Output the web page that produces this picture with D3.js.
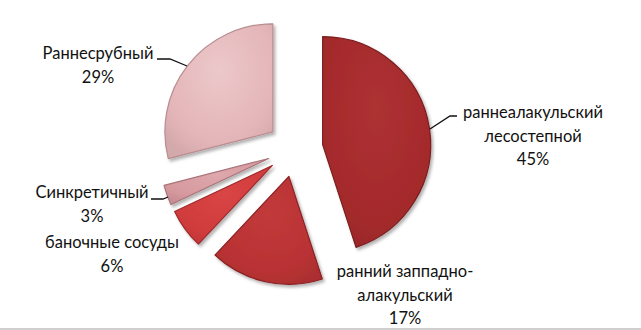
<!DOCTYPE html>
<meta charset="utf-8">
<style>
body { margin: 0; background: #fff; }
.label {
  font: 16.5px Lato, "Open Sans", sans-serif;
  fill: #111;
  text-anchor: middle;
}
.leader {
  fill: none;
  stroke: #111;
  stroke-width: 1.3px;
}
</style>
<svg width="641" height="330"></svg>
<script src="https://d3js.org/d3.v7.min.js"></script>
<script>

// chart data, clockwise from 12 o'clock
var names = [
  ["раннеалакульский", "лесостепной"],
  ["ранний заппадно-", "алакульский"],
  ["баночные сосуды"],
  ["Синкретичный"],
  ["Раннесрубный"]
];
var values = [45, 17, 6, 3, 29];

// look of each slice: base fill, light tone, rim
var fills  = ["#a42a2c", "#b93234", "#d03b3c", "#d6999e", "#e4b5b8"];
var lights = ["#ad3133", "#c23a3b", "#d94545", "#dea8ac", "#ecc8ca"];
var rims   = ["#7a1c1d", "#8a2123", "#a02a2b", "#a9757a", "#b98c90"];

// where the labels sit and their leader lines
var labelPos = [[533, 118], [405, 277], [112, 248], [92, 198], [98, 59]];
var leaders = [
  [[457, 116], [450, 116], [430, 129]],
  null,
  null,
  [[151, 199], [163, 199], [168, 197]],
  [[157, 59], [170, 59], [187, 66]]
];

var svg = d3.select("svg"),
    cx = 295, cy = 149,
    radius = 108,
    explode = 28,
    lineH = 23.5;

var defs = svg.append("defs");

var shadow = defs.append("filter")
    .attr("id", "shadow")
    .attr("x", "-20%").attr("y", "-20%")
    .attr("width", "140%").attr("height", "140%");
shadow.append("feDropShadow")
    .attr("dx", 2).attr("dy", 2.5)
    .attr("stdDeviation", 1.8)
    .attr("flood-color", "#000")
    .attr("flood-opacity", 0.3);

fills.forEach(function(c, i) {
  var grad = defs.append("radialGradient")
      .attr("id", "grad" + i)
      .attr("cx", "50%").attr("cy", "35%").attr("r", "70%");
  grad.append("stop").attr("offset", "0%").attr("stop-color", lights[i]);
  grad.append("stop").attr("offset", "75%").attr("stop-color", c);
  grad.append("stop").attr("offset", "100%").attr("stop-color", d3.color(c).darker(0.2));
});

var pie = d3.pie().sort(null).value(function(d) { return d; });
var arc = d3.arc().innerRadius(0).outerRadius(radius);

var g = svg.append("g").attr("transform", "translate(" + cx + "," + cy + ")");

g.selectAll("path")
  .data(pie(values))
  .enter().append("path")
    .attr("transform", function(d) {
      var a = (d.startAngle + d.endAngle) / 2;
      return "translate(" + explode * Math.sin(a) + "," + (-explode * Math.cos(a)) + ")";
    })
    .attr("d", arc)
    .attr("fill", function(d, i) { return "url(#grad" + i + ")"; })
    .attr("stroke", function(d, i) { return rims[i]; })
    .attr("stroke-width", 1.2)
    .attr("stroke-linejoin", "round")
    .attr("filter", "url(#shadow)");

var line = d3.line();
leaders.forEach(function(pts) {
  if (pts) svg.append("path").attr("class", "leader").attr("d", line(pts));
});

var labels = svg.selectAll("text.label")
  .data(values)
  .enter().append("text")
    .attr("class", "label")
    .attr("transform", function(d, i) { return "translate(" + labelPos[i][0] + "," + labelPos[i][1] + ")"; });

labels.each(function(v, i) {
  var t = d3.select(this);
  var rows = names[i].concat([v + "%"]);
  rows.forEach(function(r, k) {
    t.append("tspan").attr("x", 0).attr("y", k * lineH).text(r);
  });
});

// thin grey rule at the bottom edge
svg.append("rect")
    .attr("x", 0).attr("y", 328)
    .attr("width", 641).attr("height", 2)
    .attr("fill", "#cfcfcf");

</script>
